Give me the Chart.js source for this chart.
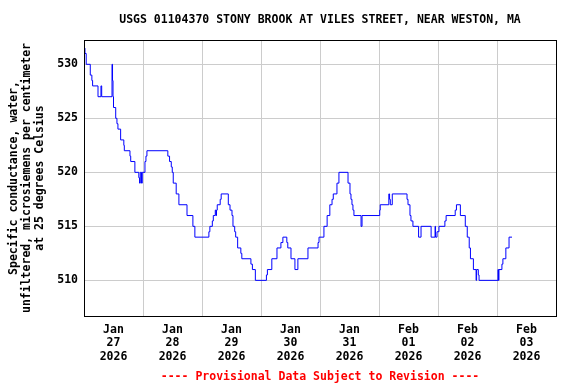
<!DOCTYPE html>
<html>
<head>
<meta charset="utf-8">
<script src="https://cdn.jsdelivr.net/npm/chart.js@4/dist/chart.umd.min.js"></script>
<style>
html,body{margin:0;padding:0;background:#ffffff;}
canvas{display:block;}
</style>
</head>
<body>
<canvas id="c" width="576" height="384"></canvas>
<script>
// Hours since Jan 27 2026 00:00 at which the reading changes
const hours = [
  0, 0.4, 0.9, 2.55, 3.2, 3.5, 5.7, 6.9, 7.2, 11.4, 11.6, 11.8, 12.0, 12.9, 13.4, 13.8,
  14.9, 16.2, 16.4, 18.7, 19.0, 20.7, 22.3, 22.6, 22.9, 23.4, 23.7, 24.8, 25.2, 25.6,
  34.1, 34.8, 35.5, 35.9, 36.3, 37.5, 38.6, 41.9, 44.3, 45.1,
  50.8, 51.2, 52.2, 52.6, 53.4, 53.7, 53.9, 54.2, 55.4, 55.8,
  58.7, 59.4, 60.2, 60.6, 61.3, 61.7, 62.5, 63.8, 64.2, 67.9, 68.5, 69.7,
  74.2, 74.6, 76.4, 78.5, 80.1, 80.9, 82.5, 82.9, 84.2, 85.8, 87.0,
  91.1, 95.2, 95.6, 97.6, 98.9, 100.0, 100.9, 101.4, 102.9, 103.7,
  107.4, 108.2, 108.6, 109.0, 109.4, 109.8, 112.7, 113.1,
  120.3, 120.5, 124.0, 124.3, 124.6, 125.4,
  131.4, 131.8, 132.6, 133.0, 133.8, 136.1, 137.1,
  141.2, 142.8, 143.0, 143.6, 144.4, 146.8, 147.3, 151.0, 151.5,
  153.1, 155.1, 155.9, 156.7, 157.2, 158.4, 159.5, 159.7, 160.4, 160.7,
  168.4, 168.6, 168.8, 170.0, 170.4, 171.6, 172.9, 174.1
];
// Specific conductance, microsiemens per centimeter at 25 C
const conductance = [
  531.5, 531, 530, 529, 528.5, 528, 527, 528, 527, 530, 528.5, 527, 526, 525, 524.5, 524,
  523, 522.5, 522, 521.5, 521, 520, 519.5, 519, 520, 519, 520, 521, 521.5, 522,
  521.5, 521, 520.5, 520, 519, 518, 517, 516, 515, 514,
  514.5, 515, 515.5, 516, 516.5, 516, 516.5, 517, 517.5, 518,
  517, 516.5, 516, 515, 514.5, 514, 513, 512.5, 512, 511.5, 511, 510,
  510.5, 511, 512, 513, 513.5, 514, 513.5, 513, 512, 511, 512,
  513, 513.5, 514, 515, 516, 517, 517.5, 518, 519, 520,
  519, 518, 517.5, 517, 516.5, 516, 515, 516,
  516.5, 517, 518, 517.5, 517, 518,
  517.5, 517, 516, 515.5, 515, 514, 515,
  514, 515, 514, 514.5, 515, 515.5, 516, 516.5, 517,
  516, 515, 514, 513, 512, 511, 510, 511, 510.5, 510,
  511, 510, 511, 511.5, 512, 513, 514, 514
];
const monthLabels = ['Jan', 'Jan', 'Jan', 'Jan', 'Jan', 'Feb', 'Feb', 'Feb'];
const dayLabels = ['27', '28', '29', '30', '31', '01', '02', '03'];
const yearLabels = ['2026', '2026', '2026', '2026', '2026', '2026', '2026', '2026'];
const yTickValues = [510, 515, 520, 525, 530];
const titleText = 'USGS 01104370 STONY BROOK AT VILES STREET, NEAR WESTON, MA';
const yTitleLines = ['Specific conductance, water,', 'unfiltered, microsiemens per centimeter', 'at 25 degrees Celsius'];
const footerText = '---- Provisional Data Subject to Revision ----';

const points = hours.map((h, i) => ({ x: h, y: conductance[i] }));
const FONT = '"DejaVu Sans Mono", "Liberation Mono", monospace';

const frame = {
  id: 'frame',
  afterDatasetsDraw(chart) {
    const a = chart.chartArea, ctx = chart.ctx;
    ctx.save();
    ctx.strokeStyle = '#000';
    ctx.lineWidth = 1;
    ctx.strokeRect(Math.round(a.left) + 0.5, Math.round(a.top) + 0.5,
      Math.round(a.right) - Math.round(a.left), Math.round(a.bottom) - Math.round(a.top));
    ctx.restore();
  }
};

new Chart(document.getElementById('c'), {
  type: 'line',
  data: {
    datasets: [{
      data: points,
      borderColor: '#0000ff',
      borderWidth: 1,
      pointRadius: 0,
      stepped: 'before',
      fill: false
    }]
  },
  options: {
    responsive: false,
    animation: false,
    devicePixelRatio: 1,
    layout: { padding: { left: 0, right: 20, top: 0, bottom: 0 } },
    plugins: {
      legend: { display: false },
      tooltip: { enabled: false },
      title: {
        display: true, text: titleText, color: '#000', fullSize: false,
        font: { family: FONT, size: 11.5, weight: 'bold', lineHeight: 1.2 },
        padding: { top: 13.5, bottom: 12.7 }
      },
      subtitle: {
        display: true, text: footerText, color: '#ff0000', position: 'bottom', fullSize: false,
        font: { family: FONT, size: 11.5, weight: 'bold', lineHeight: 1.2 },
        padding: { top: 7, bottom: 0.2 }
      }
    },
    scales: {
      x: {
        type: 'linear', min: 0, max: 192,
        afterBuildTicks: s => { const t = []; for (let v = 0; v <= 192; v += 12) t.push({ value: v }); s.ticks = t; },
        afterFit: s => { s.height = 47; },
        ticks: {
          autoSkip: false, maxRotation: 0, minRotation: 0, padding: 7, color: '#000',
          font: { family: FONT, size: 11.5, weight: 'bold', lineHeight: 1.17 },
          callback: v => {
            if (v % 24 !== 12) return '';
            const i = Math.floor(v / 24);
            return [monthLabels[i], dayLabels[i], yearLabels[i]];
          }
        },
        grid: {
          color: c => (c.tick && c.tick.value % 24 === 0) ? '#cccccc' : 'rgba(0,0,0,0)',
          drawTicks: false, lineWidth: 1
        },
        border: { display: true, color: '#000', width: 1 }
      },
      y: {
        type: 'linear', min: 506.7, max: 532.25,
        afterBuildTicks: s => { s.ticks = yTickValues.map(v => ({ value: v })); },
        afterFit: s => { s.width = 84; },
        ticks: {
          padding: 6, color: '#000',
          font: { family: FONT, size: 11.5, weight: 'bold' }
        },
        grid: { color: '#cccccc', drawTicks: false, lineWidth: 1 },
        border: { display: true, color: '#000', width: 1 },
        title: {
          display: true, text: yTitleLines, color: '#000',
          font: { family: FONT, size: 11.5, weight: 'bold', lineHeight: 1.13 },
          padding: { top: 7.5, bottom: 0 }
        }
      }
    }
  },
  plugins: [frame]
});
</script>
</body>
</html>
